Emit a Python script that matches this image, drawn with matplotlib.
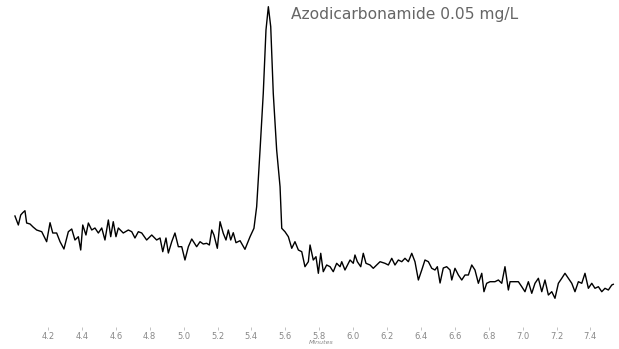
import matplotlib
matplotlib.use("Agg")
import matplotlib.pyplot as plt

# retention time (minutes) and detector response
time_min = [
    4.005, 4.025, 4.039, 4.051, 4.064, 4.074, 4.094, 4.112, 4.133, 4.163,
    4.192, 4.212, 4.228, 4.251, 4.271, 4.294, 4.320, 4.340, 4.359, 4.379,
    4.393, 4.405, 4.424, 4.438, 4.458, 4.477, 4.497, 4.517, 4.536, 4.556,
    4.570, 4.585, 4.601, 4.615, 4.644, 4.674, 4.694, 4.713, 4.733, 4.753,
    4.782, 4.812, 4.841, 4.861, 4.877, 4.896, 4.910, 4.930, 4.949, 4.969,
    4.989, 5.008, 5.028, 5.048, 5.077, 5.097, 5.116, 5.136, 5.152, 5.166,
    5.179, 5.199, 5.215, 5.234, 5.250, 5.264, 5.278, 5.293, 5.309, 5.333,
    5.362, 5.392, 5.415, 5.431, 5.451, 5.470, 5.486, 5.500, 5.514, 5.529,
    5.549, 5.569, 5.579, 5.598, 5.618, 5.638, 5.657, 5.677, 5.697, 5.716,
    5.736, 5.746, 5.765, 5.781, 5.795, 5.809, 5.824, 5.844, 5.864, 5.883,
    5.903, 5.923, 5.933, 5.952, 5.982, 6.001, 6.011, 6.025, 6.045, 6.060,
    6.076, 6.100, 6.119, 6.139, 6.159, 6.188, 6.208, 6.228, 6.247, 6.267,
    6.287, 6.306, 6.326, 6.346, 6.365, 6.385, 6.405, 6.424, 6.444, 6.464,
    6.483, 6.497, 6.513, 6.532, 6.552, 6.572, 6.582, 6.601, 6.621, 6.641,
    6.660, 6.680, 6.700, 6.719, 6.739, 6.759, 6.772, 6.788, 6.808, 6.837,
    6.857, 6.877, 6.896, 6.916, 6.926, 6.945, 6.975, 6.995, 7.014, 7.034,
    7.054, 7.073, 7.093, 7.113, 7.132, 7.152, 7.172, 7.191, 7.211, 7.231,
    7.250, 7.270, 7.290, 7.309, 7.329, 7.349, 7.368, 7.388, 7.408, 7.427,
    7.447, 7.467, 7.486, 7.506, 7.526, 7.535,
]
response = [
    84, 75, 85, 87.3, 89.3, 77, 76, 73, 70, 68.3,
    58.3, 77.3, 67, 67, 58.3, 51, 68.3, 71, 60, 63.3,
    50, 75, 65, 77, 70, 72, 67, 72, 60, 80,
    63.3, 78.3, 63.3, 72, 67, 70, 68.3, 62, 68.3, 67,
    60, 65, 60, 62, 48.3, 62, 47, 58.3, 67, 53.3,
    53.3, 40, 53.3, 61, 53.3, 58.3, 56, 56.7, 55, 70,
    65, 51.7, 78.3, 66.7, 60, 70, 60, 67.3, 57.3, 59.3,
    50.7, 63.3, 71.7, 93.3, 150, 206.7, 270, 293.3, 273.3, 206.7,
    150, 113.3, 71.7, 68.3, 63.3, 51.7, 58.3, 50, 48.3, 33.3,
    38.3, 55, 40, 43.3, 26.7, 46.7, 28.3, 35, 33.3, 28.3,
    36.7, 33.3, 38.3, 30, 40, 36.7, 45, 38.3, 33.3, 46.7,
    36.7, 35, 31.7, 35, 38.3, 36.7, 35, 41.7, 35, 40,
    38.3, 41.7, 38.3, 46.7, 38.3, 20, 30, 40, 38.3, 31.7,
    30, 33.3, 17, 32, 33.3, 30, 20, 31.7, 25, 20,
    25, 25, 35, 30, 16.7, 26.7, 8.3, 16.7, 18.3, 18.3,
    20, 16.7, 33.3, 10, 18.3, 18.3, 18.3, 13.3, 8.3, 18.3,
    6.7, 16.7, 21.7, 8.3, 20, 5, 8.3, 1.7, 16.7, 21.7,
    26.7, 21.7, 16.7, 8.3, 18.3, 16.7, 26.7, 11.7, 16.7, 11.7,
    13.3, 8.3, 11.7, 10, 15, 15.7,
]

tick_pos = [4.2, 4.4, 4.6, 4.8, 5.0, 5.2, 5.4, 5.6, 5.8, 6.0, 6.2, 6.4, 6.6, 6.8, 7.0, 7.2, 7.4]
tick_labels = ["4.2", "4.4", "4.6", "4.8", "5.0", "5.2", "5.4", "5.6", "5.8",
               "6.0", "6.2", "6.4", "6.6", "6.8", "7.0", "7.2", "7.4"]

W, H = 619, 349
fig = plt.figure(figsize=(W / 100, H / 100), dpi=100)
ax = fig.add_axes([0, (H - 327) / H, 1, 327 / H])

ax.plot(time_min, response, color="black", lw=1.0)

ax.set_xlim(3.9168, 7.5687)
ax.set_ylim(-27, 300)
for s in ax.spines.values():
    s.set_visible(False)
ax.set_yticks([])
ax.set_xticks(tick_pos)
ax.set_xticklabels(tick_labels)
ax.tick_params(axis="x", direction="out", length=2, width=0.5, color="#aaaaaa",
               labelsize=6, labelcolor="#888888", pad=1.5)

fig.text(291 / W, 1 - 15 / H, "Azodicarbonamide 0.05 mg/L", fontsize=11.2,
         color="#666666", ha="left", va="center")
fig.text(321 / W, 1 - 343 / H, "Minutes", fontsize=4.5, color="#888888",
         ha="center", va="center", style="italic")

fig.savefig("out.png", dpi=100)
